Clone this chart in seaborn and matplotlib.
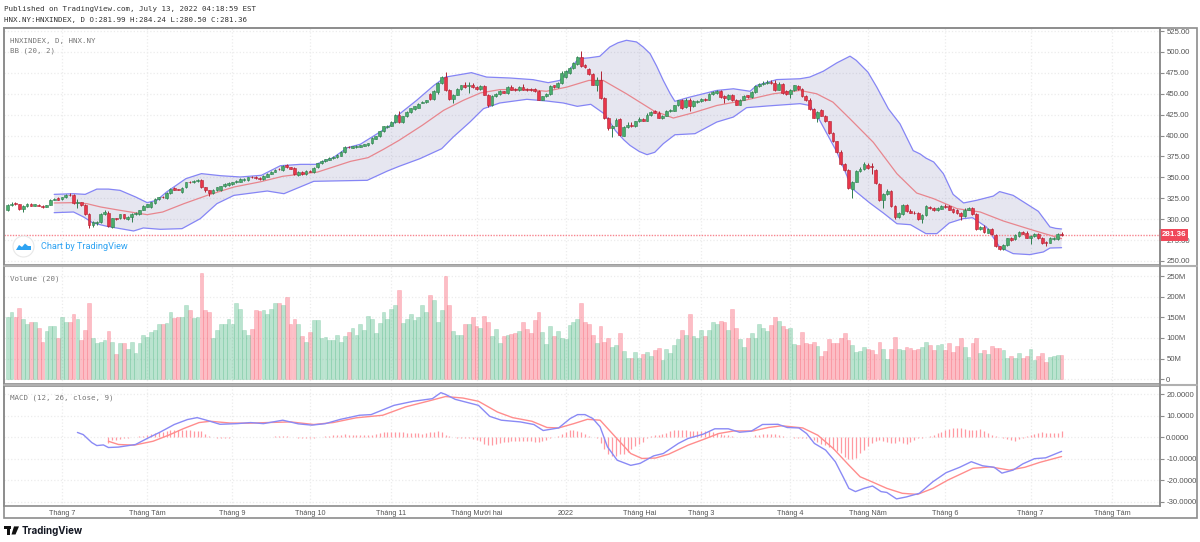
import matplotlib
matplotlib.use('Agg')
import matplotlib.pyplot as plt
import matplotlib.patches as mpatches
import numpy as np
import pandas as pd
import seaborn as sns

# candles
opens = [
    311.5, 317, 319, 318, 312, 316, 318.5, 316, 317.5, 316,
    314.5, 317, 323, 325, 324, 326, 329.5, 329.5, 319, 320,
    317, 306, 293, 295, 297, 306, 308, 291, 301, 301,
    306, 300, 303, 306, 306.5, 311, 315, 314, 319, 324,
    327, 325, 331, 337, 336, 332, 338, 345, 344, 345.5,
    347, 338, 335, 331, 335, 335, 340, 341, 342, 344,
    345, 346.5, 347, 350.5, 351, 349, 348, 351, 354, 357,
    360, 359, 365, 362, 361, 353, 356, 354, 358, 356,
    362, 367, 370, 371, 373, 374, 376, 380, 386.5, 385.5,
    386, 386.5, 388, 388.5, 391, 396.5, 399, 405, 410, 412,
    416, 425, 416, 423, 428, 431.5, 433, 439, 440, 450,
    444, 452, 463, 470, 455, 444, 449, 456, 461, 459,
    461, 458, 456, 459, 449, 436, 447, 450, 453, 451,
    458, 456, 454, 458, 456, 456, 456, 453, 443, 447,
    450, 460, 458, 463, 470, 475, 481, 486, 494, 484,
    480, 474, 461, 467, 445, 421, 409, 412, 420, 400,
    410, 413, 411, 417, 420, 418, 425, 429, 427, 421,
    424, 429, 430, 436, 442, 434, 443, 435, 440, 441,
    444, 443, 450, 451, 453, 447, 444, 448, 443, 437,
    443, 448, 446, 452, 459, 462, 463, 464, 463, 455,
    462, 453, 450, 454, 459, 456, 447, 443, 432, 421,
    431, 424, 417, 403.5, 393, 380, 366, 358.5, 336.5, 345,
    357.6, 360, 365, 364, 359, 342, 323, 330, 333.7, 315.8,
    302.6, 306.6, 316.6, 309.8, 308, 307.4, 300.6, 305.4, 315, 313.4,
    310.6, 312.6, 315.8, 315.4, 311.8, 310.6, 307.4, 304.2, 311.4, 313,
    306.6, 288.6, 290.6, 283.9, 288.6, 280.7, 267.5, 264, 269.5, 277.9,
    276.7, 279.5, 284.3, 283.5, 277.5, 279.5, 281.9, 277.5, 272.3, 272,
    276.3, 276.3, 281.99,
]
closes = [
    317, 318, 318, 312.5, 316, 318.5, 316, 318, 316, 314,
    317, 323, 324.5, 323.5, 326.5, 329, 328.5, 319, 320, 317,
    306, 293, 297, 297, 306.5, 309, 291.5, 301, 300, 306,
    301.5, 302.5, 306, 308, 311, 315.5, 318, 320, 324, 326,
    326, 331, 336, 335.5, 335.5, 337.5, 344.5, 344, 346, 346.5,
    338.5, 334.5, 331, 335.5, 338, 339.5, 342, 343.5, 344, 346,
    348, 348, 350, 350, 349, 348, 352, 354.5, 357, 359,
    359.5, 364, 362, 360.5, 354, 357, 354, 357.5, 357, 361.5,
    367, 370, 371.5, 373, 374.5, 376.5, 380, 386, 386, 387,
    388, 388.5, 389.5, 391, 397.5, 399, 405, 411, 412, 416,
    425, 416, 423, 428, 433, 435, 438, 440, 442, 444,
    453, 463, 470, 454, 444, 449, 456, 460, 458, 461,
    458, 456, 459, 449, 436, 447, 450, 453, 451, 458,
    455, 454, 458, 455, 454, 454, 453, 443, 447, 450,
    459, 458, 463, 475, 477, 481, 487, 494, 483, 482,
    474, 461, 467, 445, 421, 409, 412, 419, 401, 410,
    413, 411.5, 417, 420, 418, 425, 428, 427.5, 421.5, 424,
    429.5, 431, 436, 442, 433, 443, 435, 441, 441.5, 444,
    442, 450, 452, 453, 446, 445, 448, 442, 437, 443,
    447, 446, 452, 459, 462, 463.5, 464, 463, 454, 462,
    451, 450, 455, 460, 456, 447, 442, 432, 421.5, 428,
    424, 417, 403.5, 393, 380, 366, 358.5, 337.7, 344.5, 357.6,
    360.4, 366.4, 361.6, 362, 343, 323, 330.5, 334, 315.8, 302.6,
    307.4, 316.6, 309.8, 308, 307, 300.6, 305.4, 315.4, 313, 311,
    313.4, 315.8, 314.2, 311.4, 308.6, 307.4, 304.2, 311.4, 313, 306.6,
    288.6, 290.6, 284.6, 287.9, 281.9, 267.9, 264.7, 269.5, 277, 275.5,
    280.7, 284.3, 282.7, 277.9, 279.5, 281.9, 277.5, 271.9, 271.5, 277.9,
    277.9, 281.9, 281.36,
]
up_wick = [
    1, 2, 1, .5, 1, 1, 1, .5, 1, .5,
    .5, 1, 1, 1, .5, 1, 2, 1, 4, 1,
    1, 1, 1, 1, .5, 2, 2, 1, 1, .5,
    .5, 1, 1, 1, .5, 1, .5, 1, 1, 1,
    1, 1, 1, 1, .5, 1, .5, 1, 1, 1,
    1, 1, .5, 1, 1, .5, 1, 1, .5, .5,
    1, 1, .5, 1, 1, 1, 1, 1, 1, 1,
    1, 1, 1, 1, 1, 1, 2, 1, 1, 1,
    .5, .5, .5, 1, .5, 1, 1, 1, 1, 1,
    .5, .5, .5, .5, 1, 1, 1, 1, 1, 1,
    1, 5, 1, 1, .5, .5, .5, 1, .5, 1,
    1, 1, 1, 6, 1, 1, 1, .5, 3, 3,
    2, 1, 1, 2, 1, 1, .5, 1, .5, 1,
    2, 1, 1, 4, 1, 1, 1, 1, .5, 1,
    1, 1, 1, 2, 2, 1, 1, 1, 7, 2,
    1, 1, 3, 10, 1, 1, 1, 2, 1, 1,
    3, 3, 1, 2, 1, 2, 1, 2, 2, 1,
    1, 1, 1, 1, 2, 2, 2, 1, 1, 1,
    1, 1, 1, 2, 1, 2, 2, 2, 1, 1,
    1, 1, 1, 1, 1, 2, 2, 3, 3, 2,
    1, 1, 1, 1, 1, 1, 1, 2, 1, 1,
    1, 1, 1, 1, 1, 3, 1, 2, 1, 1,
    2, 2, 2, 3, 1, 1, 1, 2, 1, 1,
    1, 1, 2, 2, 2, 1, 1, 1, 1, 1,
    1, 1, 2, 1, 1, 2, 1, 2, 1, 1,
    1, 1, 2, 1, 1, 1, 1, 1, 1, 1,
    1, 1, 1, 2, 1, 1, 2, 1, 2, 1,
    1, 1, 2.3,
]
low_wick = [
    1.5, 1, .5, 1, 3, 1, .5, .5, .5, 1,
    .5, .5, .5, .5, .5, .5, 1, 1, 6, 1,
    1, 3, 2, 1.5, 1, 1, 1, 1, .5, 1,
    1, 1, 6, 1, 1, .5, 1, 1, 1, .5,
    .5, 1, 1, .5, .5, 1, 1, 1, 1, .5,
    1, 2, 3, 1, 1, 1, 1, 1, 1, .5,
    1, 1, 1, .5, 1, 1, 1, 1, .5, 1,
    1, 1, 1, 1, 1, 1, 1, 1, 1, 1,
    .5, .5, 1, .5, .5, .5, 1, 1, .5, .5,
    .5, .5, .5, .5, 1, 1, 1, 1, 1, 1,
    1, 1, 1, 1, 1, .5, .5, .5, .5, 2,
    1, 2, 1, 1, 2, 5, 1, 1, 1, 8,
    1, 1, 1, 1, 2, 1, 1, 1, .5, 1,
    1, 1, 1, 1, 1, 1, 1, 1, 1, 1,
    1, 1, 1, 1, 1, 1, 1, 1, 1, 1,
    1, 1, 8, 1, 1, 2, 11, 1, 1, 1,
    1, 1, 1, 1, 1, 1, 1, 1, 1, 1,
    1, 1, 1, 1, 1, 1, 6, 1, 1, 1,
    1, 1, 1, 1, 1, 6, 1, 1, 1, 1,
    1, 1, 1, 1, 1, 1, 1, 1, 1, 1,
    1, 1, 5, 1, 1, 1, 1, 1, 1, 5,
    1, 1, 1, 1, 1, 1, 1, 2, 11, 1,
    1, 1, 1, 8, 1, 1, 10, 1, 1, 2,
    1, 1, 1, 1, 1, 1, 4.6, 1, 1, 1,
    1, 1, 1, 1, 1, 1, 5, 1, 1, 1,
    1, 1, 1, 1, 1, 1, 1, 1, 1, 1,
    1, 1, 1, 1, 7, 1, 1, 1, 4, 1,
    1, 1, .9,
]

# volume in millions
volumes = [
    150, 164, 152, 174, 146, 135, 138, 140, 123, 89,
    118, 129, 129, 101, 151, 140, 138, 159, 146, 94,
    120, 184, 101, 88, 89, 96, 116, 91, 61, 88,
    87, 73, 91, 63, 88, 107, 102, 114, 120, 133,
    135, 137, 162, 148, 150, 152, 180, 167, 148, 152,
    259, 167, 162, 101, 120, 133, 135, 145, 133, 185,
    170, 119, 107, 121, 167, 165, 169, 159, 170, 184,
    186, 181, 199, 135, 146, 135, 105, 91, 114, 143,
    144, 99, 102, 95, 95, 106, 91, 105, 114, 123,
    107, 135, 119, 153, 146, 112, 137, 162, 146, 170,
    179, 216, 137, 145, 159, 143, 151, 181, 163, 204,
    192, 140, 167, 251, 181, 116, 107, 107, 133, 133,
    150, 128, 124, 154, 138, 105, 121, 88, 104, 108,
    109, 113, 117, 140, 121, 112, 143, 162, 114, 85,
    129, 105, 116, 101, 97, 132, 140, 145, 185, 138,
    135, 107, 87, 130, 91, 100, 78, 83, 111, 69,
    52, 52, 67, 52, 60, 65, 55, 70, 75, 47,
    72, 63, 83, 97, 119, 108, 159, 105, 100, 119,
    105, 119, 138, 135, 141, 138, 119, 170, 125, 97,
    79, 101, 112, 101, 135, 123, 116, 132, 150, 142,
    130, 121, 123, 85, 83, 115, 87, 85, 91, 80,
    57, 69, 97, 87, 87, 99, 113, 96, 84, 65,
    69, 79, 74, 70, 61, 89, 74, 48, 73, 102,
    74, 70, 79, 75, 70, 74, 77, 91, 83, 70,
    83, 85, 70, 88, 66, 80, 99, 77, 53, 87,
    99, 63, 70, 61, 80, 75, 75, 70, 51, 55,
    51, 63, 52, 57, 74, 47, 57, 63, 41, 53,
    57, 58, 58,
]

# Bollinger bands, vertices of the lines as (bar, value)
bb_upper_bar = [12, 17, 20, 23, 26, 29, 33, 36, 38.5, 41, 46, 50, 55, 60, 65.5, 70.4, 75.6, 79.5, 84, 87.7, 91, 95.4, 99.7,
                101, 105.5, 110, 113, 116.7, 119.7, 123.6, 129.6, 135.6, 139.5, 142.5, 145, 147.3, 150, 152.8, 155.4, 157.5,
                159.7, 162.3, 164, 165.8, 167.5, 169.2, 171, 172.2, 176, 183, 187.3, 191.6, 193.3, 198.5, 204.5, 207, 210.5,
                214, 217.4, 219, 222, 224.3, 227.3, 230.3, 233.7, 235.5, 237, 239, 241.5, 244, 246.7, 250, 254.4, 256, 259.5,
                266, 269, 270.5, 272]
bb_upper = [329.7, 330.5, 329.7, 336, 336, 334.5, 326.6, 319.8, 322.6, 332.5, 348.5, 354.5, 352, 350.5, 352.5, 364, 365.6, 365.6, 373.6, 385.6, 389.6, 402.3, 415,
            425.4, 442, 460, 470, 472.9, 475.3, 470, 468.9, 466.9, 463.3, 466, 478.8, 492, 493, 494.8, 506, 511,
            514, 512, 506, 498, 483, 466, 450, 441, 446, 454, 456, 453, 460, 467, 468, 470, 477,
            487, 495, 490, 476, 458, 432, 414, 382, 378, 373, 368.4, 354.4, 329.7, 319.4, 322.5, 327.7, 333, 328.5,
            309.4, 290.7, 289, 288.3]
bb_basis_bar = [12, 17, 20.4, 24, 29, 36, 40, 45.5, 51.5, 58.4, 65, 71, 80, 88.5, 93, 97, 101,
                107, 112.5, 117.6, 122, 127, 134, 139, 144.3, 150, 153.7, 159.7, 166.6, 171.8, 177, 183, 190, 197.6, 204.5,
                208.8, 213, 217.4, 223.4, 229.5, 234.6, 239, 245, 251, 257, 264.7, 272]
bb_basis = [319.4, 319.8, 318.6, 314.6, 310.6, 305.4, 308.6, 318.6, 328.5, 338.5, 344.5, 351.3, 356.4, 369.2, 373.6, 383.6, 394.3,
            412.3, 430.2, 442.2, 451, 455, 455.3, 453, 458, 466, 466, 450, 430, 421, 427.4, 436, 442, 450, 454,
            450, 440, 420, 392, 354.4, 331.3, 324.5, 312.6, 308.6, 297.8, 286.7, 276.7]
bb_lower_bar = [12, 17, 19.6, 22, 25.6, 32.5, 35, 39.4, 45, 49.7, 54, 58.4, 67, 71.3, 79, 92.8, 98, 101,
                106.4, 112, 115, 119.3, 122.8, 127, 134, 139, 143.4, 147, 150.5, 154, 156.8, 159, 160.6, 163, 165, 167, 169.2, 172.2, 177.4,
                183, 187.3, 190.7, 196, 204.5, 207, 209.6, 214, 218, 222.5, 226, 229.5, 233, 237, 239.8, 243, 246.5, 249,
                252.6, 256, 259.5, 263.8, 267.3, 269, 272]
bb_lower = [307.8, 308.6, 302.6, 295.5, 291.5, 285.9, 289.5, 287.9, 288.7, 300.6, 318.6, 328.5, 333.7, 330.5, 345.3, 346.5, 357.6, 363.2,
            372.4, 384.3, 398.3, 416.2, 432.2, 439, 443.4, 441.4, 439, 435, 437.4, 426, 406.3, 395, 388.3, 381, 377.2, 380, 390.3, 401, 402.3,
            416.2, 422.2, 433.4, 435.4, 438.2, 436, 418, 380.4, 336.5, 319.4, 307.4, 294.6, 293.4, 282.7, 282.7, 295.4, 300.6, 301.8,
            290.6, 266.7, 258.8, 257.6, 260.8, 265.5, 265.9]

# MACD lines
macd_bar = [18, 19.5, 21.7, 23, 24.7, 26, 28.6, 33, 36, 39.5, 43, 46.4, 48.9, 51.3, 54.8, 59.2, 62.7, 66, 71, 75, 78.5, 82, 85.9, 90.8, 93.8,
            99.7, 104.7, 109.6, 111.8, 113, 115.5, 121.5, 124.4, 127.4, 132.3, 135.8, 138.2, 142.2, 145.2, 147.1, 149, 151, 152.9,
            154.8, 157.3, 160.8, 163.2, 166.7, 169.2, 173.1, 175.6, 179.5, 182.5, 186, 188.9, 191.9, 194.8, 198.8, 201.2, 204.2,
            206.2, 208.2, 211.1, 213.6, 215.6, 217.1, 218.8, 221, 223.2, 225.4, 226.9, 229.4, 231.9, 235.3, 238.8, 242.2, 245.7,
            248.7, 251.6, 254.6, 256.6, 259.5, 262, 265, 267.9, 272]
macd_line = [2.2, 1.2, -2.5, -3.9, -3.6, -4.8, -4.6, -3.4, -0.6, 2.5, 5.9, 8.2, 9.1, 7.9, 6, 6.3, 6.8, 6.3, 7.9, 6.2, 5.6, 6.3, 8.3, 10.2, 10.5,
             14.8, 16.7, 17.9, 20.7, 19.9, 17.6, 14.8, 9.7, 7.9, 7.1, 5.9, 3.1, 4.3, 8.7, 10.5, 10.5, 8.7, 4.8,
             -4.5, -10.7, -13.1, -12.2, -8.7, -7.6, -2.9, -0.6, 1.4, 3.9, 3.9, 2.3, 2.8, 5.9, 6, 4.5, 4.3,
             1.7, -2.9, -6, -11.4, -18.4, -23.8, -25.3, -23.8, -22.7, -25.3, -25.7, -28.7, -27.8, -26.1, -20.7, -16.5, -14,
             -11.4, -13.3, -14, -16.7, -15.3, -12.4, -10, -9.6, -6.6]
signal_bar = [26, 28.6, 32.6, 37.5, 41.5, 45.4, 49.4, 52.3, 57.3, 62.2, 67, 73, 79, 84, 89.9, 96.8, 102.7, 108.6, 113, 117.5, 121.5, 126.4,
              130.3, 135.3, 139.2, 142.2, 146.1, 149.6, 152.9, 156.8, 160.8, 163.7, 167.2, 170.6, 175.6, 179.5, 183.5, 187.4, 192.4,
              196.3, 199.8, 205.2, 209.1, 213.1, 217.1, 220, 223, 226.9, 230.9, 234.8, 238.8, 242.7, 249.1, 253.6, 258.5, 262.5, 266.4, 272]
signal_line = [-1.9, -3.4, -3.7, -1.9, 0.9, 4, 6.8, 7.4, 6.6, 6.5, 6.8, 7.1, 5.9, 6.8, 9, 10.2, 14.1, 16.8, 18.9, 18.2, 16.7, 11.7,
               9.1, 7.4, 4.5, 4.3, 6.3, 8.3, 7.9, 0.2, -7.6, -9.9, -9.7, -7.9, -3.7, -1.1, 1.7, 2.9, 2.9,
               4.5, 5.3, 4.3, 0.9, -5.3, -13, -18.4, -20.7, -23.8, -26.1, -26.6, -23.8, -19.9, -14.5, -13.8, -15.3, -14, -11.7, -9]
# histogram starts at bar 26
hist = [
    -2.9, -1.4, -1.1, -0.8, -0.5, -0.3, -0.1, 0.1, 0.4, 0.7,
    1.1, 1.5, 1.9, 2.3, 2.6, 2.9, 3.2, 3.3, 3.4, 3.4,
    3.3, 3.2, 3.0, 2.9, 2.7, 1.3, 0.5, -0.1, -0.3, -0.4,
    -0.2, -0.2, -0.1, 0, 0.1, 0.2, 0.2, 0.1, 0.1, -0.1,
    0, 0.1, 0.3, 0.4, 0.5, 0.6, 0.5, 0.3, 0.1, -0.2,
    -0.3, -0.4, -0.4, -0.3, 0.1, 0.2, 0.4, 0.6, 0.8, 0.9,
    1.2, 1.4, 1.2, 1.1, 1.0, 0.9, 0.8, 0.9, 1.1, 1.5,
    1.9, 2.3, 2.4, 2.5, 2.3, 2.2, 2.2, 2.1, 2.0, 1.9,
    1.8, 1.7, 2.0, 2.3, 2.6, 2.8, 2.3, 0.9, 0.4, 0.2,
    -0.2, -0.3, -0.5, -0.6, -0.9, -1.3, -1.8, -3.2, -3.8, -3.6,
    -3.3, -2.9, -2.4, -2.1, -1.9, -1.8, -1.7, -1.6, -1.8, -1.9,
    -2.4, -2.3, -2.0, -1.1, -0.5, 0.2, 0.7, 1.7, 2.5, 3.3,
    3.5, 3.0, 2.5, 1.6, 0.6, 0.3, -0.4, -2.5, -5.3, -7.6,
    -8.7, -8.6, -8, -8, -6.8, -5.6, -4.2, -3, -2.2, -0.6,
    0.4, 1, 1.1, 1.6, 2, 2.7, 3.2, 3.4, 3.4, 3.3,
    3.1, 3, 2.9, 2.7, 2.8, 2.8, 2.6, 2.1, 1.4, 1.1,
    0.9, 0.5, 0.2, 0.1, 0.1, 0.2, 0.3, 0.8, 1, 1.3,
    1.6, 1.5, 1.4, 0.9, 0.5, 0.1, -0.1, -0.3, -0.2, -0.2,
    -0.4, -0.8, -1.5, -2.4, -3, -3.5, -4.5, -5.5, -6.5, -7.5,
    -9, -10, -10, -9.5, -7.5, -6, -4.2, -2.5, -1.7, -1.2,
    -1.6, -2.4, -2.5, -2.6, -2, -2.8, -3, -2.2, -1.3, -0.6,
    -0.2, 0.2, 0.6, 1, 1.8, 2.6, 3.4, 4, 4.4, 4.5,
    4.2, 3.8, 3.5, 3.3, 3.5, 3.7, 3, 1.8, 1, 0.5,
    0.1, -0.3, -0.8, -1.4, -1.6, -1, -0.2, 0.5, 1.2, 1.6,
    2, 2.2, 2, 1.8, 1.8, 2, 2.7,
]

month_bars = [14, 36, 58, 78, 99, 121, 144, 163, 179, 202, 222, 242, 264, 285]
month_labels = ['Tháng 7', 'Tháng Tám', 'Tháng 9', 'Tháng 10', 'Tháng 11', 'Tháng Mười hai', '2022', 'Tháng Hai',
                'Tháng 3', 'Tháng 4', 'Tháng Năm', 'Tháng 6', 'Tháng 7', 'Tháng Tám']
price_ticks = [250, 275, 300, 325, 350, 375, 400, 425, 450, 475, 500, 525]
volume_ticks = [0, 50, 100, 150, 200, 250]
macd_ticks = [-30, -20, -10, 0, 10, 20]
last_price = 281.36

df = pd.DataFrame({'open': opens, 'close': closes, 'up': up_wick, 'low': low_wick, 'volume': volumes})
df['bar'] = df.index
df['rising'] = df['close'] >= df['open']
df['high_px'] = df[['open', 'close']].max(axis=1) + df['up']
df['low_px'] = df[['open', 'close']].min(axis=1) - df['low']

sns.set_theme(style='white')
plt.rcParams['font.family'] = ['Liberation Sans', 'DejaVu Sans']
W, H = 1200, 542
fig = plt.figure(figsize=(W / 100, H / 100), dpi=100)


def panel(top, bottom):
    return fig.add_axes([4 / W, 1 - bottom / H, (1160 - 4) / W, (bottom - top) / H])


ax_price = panel(28, 265)
ax_vol = panel(266, 384)
ax_macd = panel(386, 506)
FRAME = '#8c8c8c'
GRID = '#ececec'
TICK = '#555555'

for ax, ticks in [(ax_price, price_ticks), (ax_vol, volume_ticks), (ax_macd, macd_ticks)]:
    ax.set_xlim(-0.95, 297.4)
    ax.set_facecolor('white')
    ax.yaxis.tick_right()
    ax.set_yticks(ticks)
    ax.set_xticks(month_bars)
    ax.grid(True, color=GRID, linestyle=':', linewidth=0.9)
    ax.set_axisbelow(True)
    ax.tick_params(axis='y', length=3, width=0.8, color=FRAME, labelsize=5.6, labelcolor=TICK, pad=1.5, right=True)
    ax.tick_params(axis='x', length=0, labelbottom=False)
    for s in ax.spines.values():
        s.set_color(FRAME)
        s.set_linewidth(1.2)

# price panel
ax_price.set_ylim(245.2, 528.7)
ax_price.set_yticklabels([f'{t:.2f}' for t in price_ticks])
ax_price.fill(np.r_[bb_upper_bar, bb_lower_bar[::-1]], np.r_[bb_upper, bb_lower[::-1]],
              color='#21217f', alpha=0.11, linewidth=0, zorder=1)
sns.lineplot(x=bb_upper_bar, y=bb_upper, ax=ax_price, color='#8585f5', linewidth=0.9, zorder=2, errorbar=None, sort=False)
sns.lineplot(x=bb_lower_bar, y=bb_lower, ax=ax_price, color='#8585f5', linewidth=0.9, zorder=2, errorbar=None, sort=False)
sns.lineplot(x=bb_basis_bar, y=bb_basis, ax=ax_price, color='#e8868e', linewidth=0.9, zorder=2, errorbar=None, sort=False)
ax_price.axhline(last_price, color='#f7858f', linestyle=(0, (1, 1)), linewidth=1, zorder=2)

for rising, face, edge in [(True, '#49ad6c', '#2f7d4f'), (False, '#e8364a', '#b02233')]:
    part = df[df['rising'] == rising]
    ax_price.vlines(part['bar'], part['low_px'], part['high_px'], color=edge, linewidth=0.7, zorder=3)
    ax_price.bar(part['bar'], (part['close'] - part['open']).abs(), bottom=part[['open', 'close']].min(axis=1),
                 width=0.72, color=face, edgecolor=edge, linewidth=0.4, zorder=4)
ax_price.text(1.0012, last_price, f'{last_price:.2f}', transform=ax_price.get_yaxis_transform(), color='white',
              fontsize=5.8, fontweight='bold', va='center', ha='left', zorder=6,
              bbox=dict(boxstyle='square,pad=0.3', fc='#f0485a', ec='none'), clip_on=False)

# volume panel
ax_vol.set_ylim(-12, 275)
ax_vol.set_yticklabels(['0'] + [f'{t}M' for t in volume_ticks[1:]])
sns.barplot(data=df, x='bar', y='volume', hue='rising', palette={True: '#53b987', False: '#f95c6e'},
            native_scale=True, dodge=False, legend=False, ax=ax_vol, width=0.98, alpha=0.4, saturation=1, zorder=3)
for p in ax_vol.patches:
    p.set_edgecolor(p.get_facecolor())
    p.set_linewidth(0.4)
ax_vol.set_xlim(-0.95, 297.4)
ax_vol.set_xlabel('')
ax_vol.set_ylabel('')
ax_vol.set_xticks(month_bars)
ax_vol.tick_params(axis='x', length=0, labelbottom=False)

# MACD panel
ax_macd.set_ylim(-32, 23.8)
ax_macd.set_yticklabels([f'{t:.4f}' for t in macd_ticks])
ax_macd.vlines(np.arange(26, 26 + len(hist)), 0, hist, color='#ff9aa2', linewidth=0.9, zorder=2)
sns.lineplot(x=signal_bar, y=signal_line, ax=ax_macd, color='#ff8d8d', linewidth=1, zorder=3, errorbar=None, sort=False)
sns.lineplot(x=macd_bar, y=macd_line, ax=ax_macd, color='#8a8af5', linewidth=1, zorder=4, errorbar=None, sort=False)
ax_macd.tick_params(axis='x', length=2, width=0.8, color=FRAME, labelbottom=True, labelsize=5.2, labelcolor=TICK, pad=1)
ax_macd.set_xticklabels(month_labels)

# outer frame
fig.add_artist(mpatches.Rectangle((4 / W, 1 - 518 / H), (1197 - 4) / W, (518 - 28) / H, fill=False,
                                  edgecolor=FRAME, linewidth=1.2, transform=fig.transFigure))
fig.add_artist(plt.Line2D([4 / W, 1197 / W], [1 - 265.5 / H] * 2, color='#b0b0b0', linewidth=1.5))
fig.add_artist(plt.Line2D([4 / W, 1197 / W], [1 - 385 / H] * 2, color='#b0b0b0', linewidth=1.5))
fig.add_artist(plt.Line2D([1160 / W] * 2, [1 - 28 / H, 1 - 506 / H], color=FRAME, linewidth=1.2))


def label(x, y, s, **kw):
    fig.text(x / W, 1 - y / H, s, va='center', ha='left', **kw)


mono = dict(family='DejaVu Sans Mono', fontsize=5.4)
label(4, 8.5, 'Published on TradingView.com, July 13, 2022 04:18:59 EST', color='#333333', **mono)
label(4, 20, 'HNX.NY:HNXINDEX, D O:281.99 H:284.24 L:280.50 C:281.36', color='#333333', **mono)
label(10, 40.5, 'HNXINDEX, D, HNX.NY', color='#777777', **mono)
label(10, 51, 'BB (20, 2)', color='#777777', **mono)
label(10, 279, 'Volume (20)', color='#777777', **mono)
label(10, 398, 'MACD (12, 26, close, 9)', color='#777777', **mono)

# watermark
fig.add_artist(mpatches.Ellipse((23.5 / W, 1 - 246.5 / H), 21 / W, 21 / H, fc='white', ec='#e8e8e8', lw=0.8,
                                transform=fig.transFigure))
cloud = [(16, 250), (19, 245), (22, 247), (25, 243.5), (28, 246), (31, 246), (31, 250)]
fig.add_artist(mpatches.Polygon([(x / W, 1 - y / H) for x, y in cloud], fc='#2ea3f2', ec='none', transform=fig.transFigure))
label(41, 246.5, 'Chart by TradingView', color='#2ea3f2', fontsize=6.6, family='Roboto')

# bottom logo
fig.add_artist(mpatches.Rectangle((4 / W, 1 - 529 / H), 6.5 / W, 2.6 / H, fc='#111111', ec='none', transform=fig.transFigure))
fig.add_artist(mpatches.Rectangle((7 / W, 1 - 534.5 / H), 2.8 / W, 6.2 / H, fc='#111111', ec='none', transform=fig.transFigure))
fig.add_artist(mpatches.Polygon([(x / W, 1 - y / H) for x, y in [(14, 526.4), (19, 526.4), (15.5, 534.5), (11.5, 534.5)]],
                                fc='#111111', ec='none', transform=fig.transFigure))
label(22, 530.5, 'TradingView', color='#131722', fontsize=7, fontweight='bold', family='Inter')

fig.savefig('out.png', dpi=100)
